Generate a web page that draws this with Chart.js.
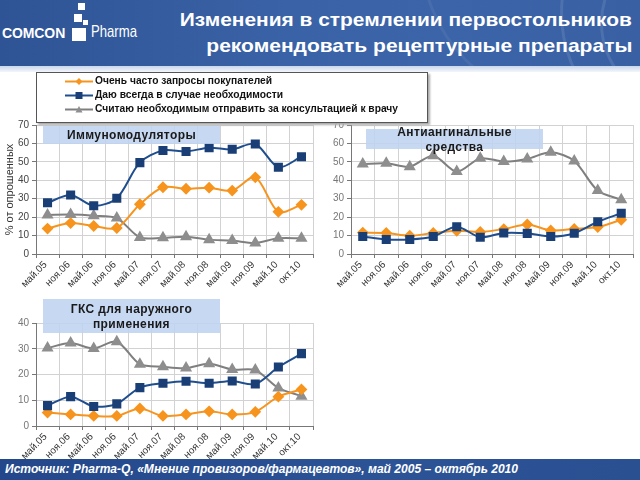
<!DOCTYPE html>
<html><head><meta charset="utf-8">
<script src="https://cdn.jsdelivr.net/npm/chart.js@4/dist/chart.umd.min.js"></script>
<style>
html,body{margin:0;padding:0;}
body{width:640px;height:480px;overflow:hidden;background:#fff;position:relative;font-family:"Liberation Sans",Arial,sans-serif;}
.abs{position:absolute;}
#hdr{left:0;top:0;width:640px;height:66px;background:linear-gradient(90deg,#2e5495 0%,#3a62a6 45%,#3c64a8 70%,#3860a3 100%);overflow:hidden;}
#hdr .arc{position:absolute;border-radius:50%;border:3px solid rgba(255,255,255,0.10);}
#strip{left:0;top:66px;width:640px;height:6px;background:linear-gradient(180deg,#c9d7ec,#f3f6fb);}
.ttl{color:#fff;font-weight:bold;font-size:19px;white-space:nowrap;transform-origin:right center;}
#logo1{left:2px;top:25px;color:#fff;font-weight:bold;font-size:14px;letter-spacing:-0.1px;}
#logo2{left:91px;top:22px;color:#fff;font-size:17px;font-weight:normal;transform-origin:left center;white-space:nowrap;}
.sq{position:absolute;background:#fff;}
#ftr{left:0;top:459px;width:640px;height:21px;background:linear-gradient(90deg,#23478a,#2c5396 60%,#2a5092);z-index:5;}
#ftxt{left:5px;top:462px;color:#fff;font-weight:bold;font-style:italic;font-size:12px;white-space:nowrap;transform-origin:left center;z-index:6;}
canvas{position:absolute;}
#legend{left:36px;top:72px;width:390px;height:49px;border:1px solid #555;background:#fff;box-shadow:2px 2px 2px #aaa;z-index:3;}
.lt{position:absolute;left:58px;font-weight:bold;font-size:10.5px;color:#111;white-space:nowrap;transform-origin:left center;}
.pbox{position:absolute;background:rgba(190,211,240,0.88);z-index:4;}
.ptxt{position:absolute;z-index:4;font-weight:bold;font-size:12px;color:#1a1a1a;white-space:nowrap;text-align:center;letter-spacing:0.4px;}
</style></head>
<body>
<div id="hdr" class="abs">
  <div class="arc" style="left:560px;top:-120px;width:260px;height:260px;"></div>
  <div class="arc" style="left:600px;top:-60px;width:160px;height:160px;"></div>
  <div class="arc" style="left:420px;top:-200px;width:300px;height:300px;border-color:rgba(255,255,255,0.06)"></div>
</div>
<div id="strip" class="abs"></div>
<div id="logo1" class="abs">COMCON</div>
<div class="sq" style="left:72px;top:28px;width:14px;height:13px;"></div>
<div class="sq" style="left:78px;top:3px;width:7px;height:7px;"></div>
<div class="sq" style="left:74px;top:14px;width:8px;height:8px;"></div>
<div class="sq" style="left:83px;top:20px;width:5px;height:5px;"></div>
<div id="logo2" class="abs">Pharma</div>
<div id="t1" class="abs ttl" style="right:8px;top:9px;">Изменения в стремлении первостольников</div>
<div id="t2" class="abs ttl" style="right:8px;top:35px;">рекомендовать рецептурные препараты</div>

<div id="legend" class="abs">
  <canvas id="legc" width="60" height="49" style="left:0;top:0;"></canvas>
  <div id="l0" class="lt" style="top:1px;"></div>
  <div id="l1" class="lt" style="top:15px;"></div>
  <div id="l2" class="lt" style="top:29px;"></div>
</div>

<canvas id="c1" width="320" height="195" style="left:0;top:115px;"></canvas>
<canvas id="c2" width="320" height="195" style="left:320px;top:115px;"></canvas>
<canvas id="c3" width="320" height="167" style="left:0;top:313px;"></canvas>

<div class="pbox" style="left:43px;top:126px;width:177px;height:18px;"></div>
<div class="ptxt" id="p1" style="left:43px;top:127px;width:177px;line-height:16px;"></div>
<div class="pbox" style="left:366px;top:129px;width:177px;height:20px;"></div>
<div class="ptxt" id="p2" style="left:366px;top:125px;width:177px;line-height:15px;"></div>
<div class="pbox" style="left:43px;top:299px;width:177px;height:34px;"></div>
<div class="ptxt" id="p3" style="left:43px;top:302px;width:177px;line-height:15px;"></div>

<div id="ftr" class="abs"></div>
<div id="ftxt" class="abs">Источник: Pharma-Q, «Мнение провизоров/фармацевтов», май 2005 – октябрь 2010</div>

<script>
// ---------- DATA ----------
const categories = ['май.05','ноя.06','май.06','ноя.06','май.07','ноя.07','май.08','ноя.08','май.09','ноя.09','май.10','окт.10'];
const seriesNames = ['Очень часто запросы покупателей','Даю всегда в случае необходимости','Считаю необходимым отправить за консультацией к врачу'];
const panelTitles = [['Иммуномодуляторы'],['Антиангинальные','средства'],['ГКС для наружного','применения']];
const yAxisTitle = '% от опрошенных';

const immunoOrange = [13.8,16.8,15.2,14.1,27.0,36.2,35.4,36.0,34.4,41.6,22.9,26.7];
const immunoBlue   = [27.8,32.0,26.2,30.3,49.6,56.2,55.6,57.7,56.8,59.7,47.1,52.8];
const immunoGray   = [21.2,21.4,20.8,19.5,9.0,8.8,9.4,7.8,7.3,6.0,8.5,8.5];

const anginaOrange = [11.6,11.4,9.9,11.4,12.6,12.0,13.5,16.0,12.8,13.6,14.6,18.6];
const anginaBlue   = [9.5,7.9,7.9,9.5,14.8,9.1,11.4,11.2,9.5,11.3,17.5,22.1];
const anginaGray   = [48.8,49.2,47.4,53.3,44.7,51.9,50.2,51.6,55.2,50.5,34.4,29.4];

const gksOrange = [5.2,4.5,3.9,3.9,6.8,3.9,4.5,5.7,4.5,5.5,11.4,14.2];
const gksBlue   = [7.9,11.4,7.6,8.6,14.9,16.6,17.4,16.6,17.5,16.3,22.9,28.1];
const gksGray   = [30.3,32.2,30.1,32.7,24.0,23.0,22.5,24.2,21.9,21.7,14.8,11.6];

const yMaxImmuno = 70, yMaxAngina = 70, yMaxGks = 40, yStep = 10;

// ---------- STYLE ----------
const ORANGE = '#f7941e', BLUE_L = '#1f4e8f', BLUE_M = '#1a3f76', GRAY_L = '#7f7f7f', GRAY_M = '#8e8e8e';

function fitWidth(el, w){
  el.style.display='inline-block';
  const cw = el.getBoundingClientRect().width;
  if (cw>0) el.style.transform = 'scaleX(' + (w/cw) + ')';
}

document.getElementById('l0').textContent = seriesNames[0];
document.getElementById('l1').textContent = seriesNames[1];
document.getElementById('l2').textContent = seriesNames[2];
document.getElementById('p1').innerHTML = panelTitles[0].join('<br>');
document.getElementById('p2').innerHTML = panelTitles[1].join('<br>');
document.getElementById('p3').innerHTML = panelTitles[2].join('<br>');
fitWidth(document.getElementById('t1'), 452);
fitWidth(document.getElementById('t2'), 426);
fitWidth(document.getElementById('logo2'), 46);
fitWidth(document.getElementById('ftxt'), 513);
fitWidth(document.getElementById('l0'), 177);
fitWidth(document.getElementById('l1'), 188);
fitWidth(document.getElementById('l2'), 303);

(function(){
  const ctx = document.getElementById('legc').getContext('2d');
  const rows = [8.5, 22.5, 36.5];
  const cols = [[ORANGE,ORANGE],[BLUE_L,BLUE_M],[GRAY_L,GRAY_M]];
  rows.forEach((y,i)=>{
    ctx.strokeStyle = cols[i][0]; ctx.lineWidth = 2;
    ctx.beginPath(); ctx.moveTo(28,y); ctx.lineTo(56,y); ctx.stroke();
    ctx.fillStyle = cols[i][1];
    const x = 42;
    ctx.beginPath();
    if (i===0){ ctx.moveTo(x,y-3.5); ctx.lineTo(x+3.5,y); ctx.lineTo(x,y+3.5); ctx.lineTo(x-3.5,y); }
    else if (i===1){ ctx.rect(x-3.5,y-3.5,7,7); }
    else { ctx.moveTo(x,y-3.5); ctx.lineTo(x+3.5,y+3); ctx.lineTo(x-3.5,y+3); }
    ctx.closePath(); ctx.fill();
  });
})();

function makeChart(id, o, b, g, ymax, cfg){
  return new Chart(document.getElementById(id), {
    type:'line',
    data:{
      labels: categories,
      datasets:[
        {label:seriesNames[0], data:o, borderColor:ORANGE, backgroundColor:ORANGE, pointBorderColor:ORANGE, pointBackgroundColor:ORANGE, pointStyle:'rectRot', pointRadius:4.5, borderWidth:2, tension:0.3, order:1},
        {label:seriesNames[1], data:b, borderColor:BLUE_L, backgroundColor:BLUE_M, pointBorderColor:BLUE_M, pointBackgroundColor:BLUE_M, pointStyle:'rect', pointRadius:5, borderWidth:2, tension:0.3, order:0},
        {label:seriesNames[2], data:g, borderColor:GRAY_L, backgroundColor:GRAY_M, pointBorderColor:GRAY_M, pointBackgroundColor:GRAY_M, pointStyle:'triangle', pointRadius:5, borderWidth:2, tension:0.3, order:2}
      ]
    },
    options:{
      responsive:false, animation:false, devicePixelRatio:1,
      layout:{padding:{top:10, right:cfg.right, left:0, bottom:0}},
      plugins:{legend:{display:false}, tooltip:{enabled:false}},
      scales:{
        x:{
          offset:true,
          grid:{offset:true, color:'#d2d2d2', tickColor:'#777', tickLength:4, lineWidth:1},
          border:{color:'#777', width:1},
          ticks:{autoSkip:false, maxRotation:45, minRotation:45, font:{family:'Liberation Sans', size:10}, color:'#333', padding:1, labelOffset:-2},
          afterFit:s=>{s.height=cfg.xh;}
        },
        y:{
          min:0, max:ymax,
          ticks:{stepSize:yStep, font:{family:'Liberation Sans', size:10}, color:cfg.tickColor, padding:3},
          grid:{color:'#d2d2d2', tickColor:'#777', tickLength:4},
          border:{color:'#777', width:1},
          title:{display:!!cfg.title, text:cfg.title||'', font:{family:'Liberation Sans', size:11}, color:'#333', padding:{top:3,bottom:0}},
          afterFit:s=>{s.width=cfg.yw;}
        }
      }
    }
  });
}

makeChart('c1', immunoOrange, immunoBlue, immunoGray, yMaxImmuno, {right:3, xh:56, yw:36, tickColor:'#444', title:yAxisTitle});
makeChart('c2', anginaOrange, anginaBlue, anginaGray, yMaxAngina, {right:6, xh:56, yw:31, tickColor:'#777'});
makeChart('c3', gksOrange, gksBlue, gksGray, yMaxGks, {right:4, xh:54, yw:36, tickColor:'#777'});
</script>
</body></html>
